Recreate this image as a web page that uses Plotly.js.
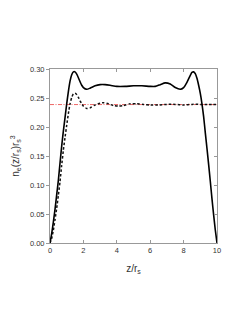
<!DOCTYPE html>
<html>
<head>
<meta charset="utf-8">
<script src="https://cdn.plot.ly/plotly-3.0.1.min.js"></script>
<style>html,body{margin:0;padding:0;background:#fff;}#chart{width:249px;height:323px;}</style>
</head>
<body>
<div id="chart"></div>
<script>
// slab (solid) density profile
const slabZ = [0,0.1,0.2,0.3,0.4,0.5,0.6,0.7,0.8,0.9,1.0,1.1,1.2,1.3,1.4,1.5,1.6,1.7,1.8,1.9,2.0,2.2,2.4,2.7,3.0,3.3,3.6,4.0,4.5,5.0,5.5,6.0,6.3,6.6,6.9,7.2,7.5,7.8,8.0,8.2,8.4,8.5,8.6,8.7,8.8,8.9,9.0,9.1,9.2,9.3,9.4,9.5,9.6,9.7,9.8,9.9,10.0];
const slabN = [0,0.016,0.036,0.058,0.083,0.108,0.138,0.167,0.193,0.216,0.240,0.261,0.279,0.290,0.295,0.295,0.291,0.285,0.278,0.272,0.268,0.265,0.267,0.271,0.273,0.273,0.272,0.270,0.270,0.271,0.271,0.270,0.270,0.273,0.276,0.274,0.268,0.265,0.268,0.277,0.289,0.294,0.295,0.292,0.284,0.272,0.258,0.240,0.218,0.190,0.163,0.135,0.106,0.076,0.048,0.022,0];
// semi-infinite (dashed) density profile
const surfZ = [0,0.1,0.2,0.3,0.4,0.5,0.6,0.7,0.8,0.9,1.0,1.1,1.2,1.3,1.4,1.5,1.6,1.7,1.8,1.9,2.0,2.2,2.4,2.7,3.0,3.2,3.5,3.8,4.1,4.4,4.8,5.2,5.6,6.0,6.5,7.0,7.5,8.0,8.5,9.0,9.5,10.0];
const surfN = [0,0.008,0.022,0.040,0.060,0.082,0.106,0.134,0.160,0.182,0.203,0.223,0.240,0.251,0.257,0.258,0.256,0.251,0.245,0.240,0.236,0.232,0.233,0.238,0.241,0.242,0.240,0.237,0.236,0.237,0.240,0.240,0.239,0.238,0.238,0.239,0.239,0.238,0.239,0.239,0.239,0.239];
// bulk density 3/(4*pi)
const bulkZ = [0, 10];
const bulkN = [0.2387, 0.2387];
const xTicks = [0,2,4,6,8,10];
const yTicks = [0,0.05,0.10,0.15,0.20,0.25,0.30];

const traces = [
  {x: bulkZ, y: bulkN, mode: 'lines', line: {color: '#e8403f', width: 0.8, dash: '4px,1.5px,1px,1.5px'}, hoverinfo: 'skip'},
  {x: surfZ, y: surfN, mode: 'lines', line: {color: '#111', width: 1.5, dash: '2.5px,2px', shape: 'spline', smoothing: 0.6}},
  {x: slabZ, y: slabN, mode: 'lines', line: {color: '#000', width: 1.6, shape: 'spline', smoothing: 0.6}}
];
const fam = '"Liberation Sans", Arial, sans-serif';
const font = {family: fam, size: 7.5, color: '#333'};
const layout = {
  width: 249, height: 323,
  margin: {l: 50, r: 32, t: 69, b: 80, pad: 0},
  paper_bgcolor: '#fff', plot_bgcolor: '#fff',
  showlegend: false,
  font: font,
  xaxis: {
    range: [0, 10], tickvals: xTicks, ticks: 'inside', ticklen: 3, tickcolor: '#999',
    showline: true, linecolor: '#999', linewidth: 1, mirror: 'ticks',
    showgrid: false, zeroline: false, tickfont: font, automargin: false,
    title: {text: 'z/r<sub>s</sub>', font: {family: fam, size: 10, color: '#333'}, standoff: 10}
  },
  yaxis: {
    range: [0, 0.30], tickvals: yTicks, tickformat: '.2f', ticks: 'outside', ticklen: 3, tickcolor: '#999',
    showline: true, linecolor: '#999', linewidth: 1, mirror: false,
    showgrid: false, zeroline: false, tickfont: font, automargin: false,
    title: {text: 'n<sub>e</sub>(z/r<sub>s</sub>)r<sub>s</sub><sup>3</sup>', font: {family: fam, size: 10, color: '#333'}, standoff: 8}
  },
  yaxis2: {
    range: [0, 0.30], tickvals: yTicks, overlaying: 'y', side: 'right', ticks: 'inside', ticklen: 3, tickcolor: '#999',
    showline: true, linecolor: '#999', linewidth: 1, showticklabels: false,
    showgrid: false, zeroline: false
  }
};
// invisible trace to activate the mirrored right axis
traces.push({x: [0], y: [0], yaxis: 'y2', mode: 'markers', marker: {opacity: 0}, hoverinfo: 'skip'});
Plotly.newPlot('chart', traces, layout, {displayModeBar: false, staticPlot: true});
</script>
</body>
</html>
